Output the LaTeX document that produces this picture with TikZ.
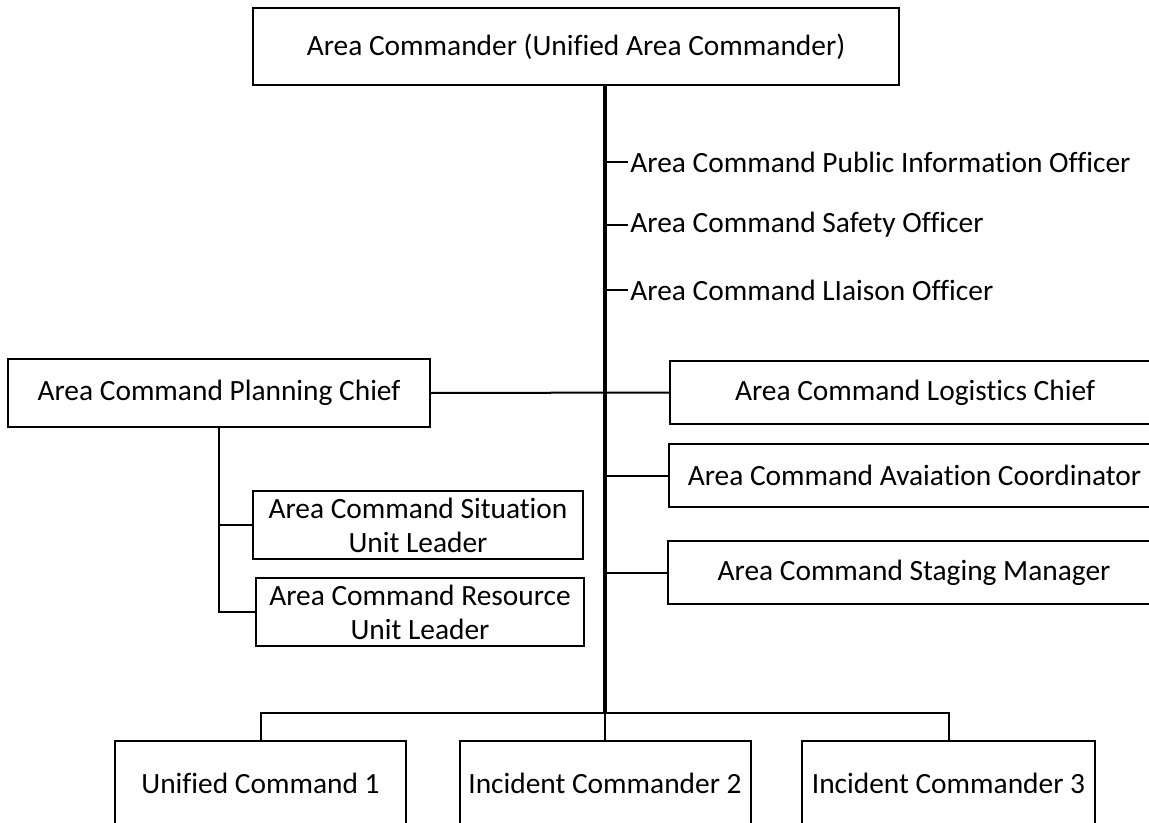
\documentclass[tikz,border=0pt]{standalone}
\usepackage{fontspec}
\setmainfont[Ligatures=NoCommon]{Carlito}
\begin{document}
\begin{tikzpicture}[x=0.5pt,y=-0.5pt,
  box/.style={draw, line width=1pt, inner sep=0pt, align=center, font=\fontsize{14.7}{17}\selectfont},
  lbl/.style={inner sep=1pt, anchor=west, font=\fontsize{14.7}{17}\selectfont},
  conn/.style={line width=1pt},
  spine/.style={line width=1.6pt}]
\useasboundingbox (0,0) rectangle (1149,823);
\clip (0,0) rectangle (1149,823);
% nodes
\node[box, minimum width=323pt, minimum height=38.5pt] (top) at (576,46.5) {Area Commander (Unified Area Commander)};
\node[box, minimum width=211pt, minimum height=34pt] (plan) at (219,393) {Area Command Planning Chief};
\node[box, minimum width=245pt, minimum height=31.5pt] (log) at (915,392.5) {Area Command Logistics Chief};
\node[box, minimum width=245.5pt, minimum height=31.5pt] (avi) at (914.5,475.5) {Area Command Avaiation Coordinator};
\node[box, minimum width=246pt, minimum height=31.5pt] (stg) at (914,572.5) {Area Command Staging Manager};
\node[box, minimum width=165pt, minimum height=34pt] (sit) at (418,525) {Area Command Situation\\Unit Leader};
\node[box, minimum width=164pt, minimum height=34pt] (res) at (420,612) {Area Command Resource\\Unit Leader};
\node[box, minimum width=145.5pt, minimum height=42.5pt] (b1) at (260.5,783.5) {Unified Command 1};
\node[box, minimum width=145.5pt, minimum height=42.5pt] (b2) at (605,783.5) {Incident Commander 2};
\node[box, minimum width=146.5pt, minimum height=42.5pt] (b3) at (948.5,783.5) {Incident Commander 3};
\node[lbl] (pio) at (628,162) {Area Command Public Information Officer};
\node[lbl] (saf) at (628,225) {Area Command Safety Officer};
\node[lbl] (lia) at (628,290) {Area Command LIaison Officer};
\coordinate (sp) at (605,713);
% connectors
\draw[spine] (top.south -| sp) -- (sp);
\draw[conn] (pio.west -| sp) -- (pio.west);
\draw[conn] (saf.west -| sp) -- (saf.west);
\draw[conn] (lia.west -| sp) -- (lia.west);
\draw[conn] (plan.east) -- (log.west);
\draw[conn] (avi.west -| sp) -- (avi.west);
\draw[conn] (stg.west -| sp) -- (stg.west);
\draw[conn] (plan.south) -- (plan.south |- res.west) -- (res.west);
\draw[conn] (plan.south |- sit.west) -- (sit.west);
\draw[conn] (b1.north) |- (b3.north |- sp) -- (b3.north);
\draw[conn] (sp) -- (b2.north);
\end{tikzpicture}
\end{document}
